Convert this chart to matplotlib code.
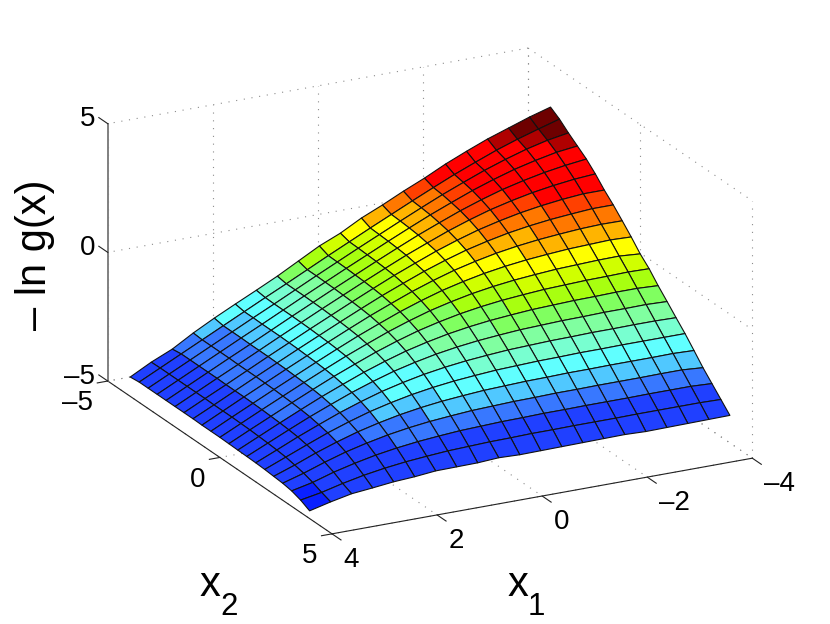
import numpy as np
import matplotlib
matplotlib.use('Agg')
from matplotlib import pyplot as plt
from matplotlib.colors import ListedColormap, BoundaryNorm
from mpl_toolkits.mplot3d import proj3d

plt.rcParams['font.family'] = ['Liberation Sans', 'DejaVu Sans']

# %% data
# edges measured from the grid corners, inner cells estimated from the
# grid lines and colour bands
x1 = [4.0, 3.6, 3.2, 2.8, 2.4, 2.0, 1.6, 1.2, 0.8, 0.4, 0.0,
      -0.4, -0.8, -1.2, -1.6, -2.0, -2.4, -2.8, -3.2, -3.6, -4.0]
x2 = [-4.0, -3.6, -3.2, -2.8, -2.4, -2.0, -1.6, -1.2, -0.8, -0.4, 0.0,
      0.4, 0.8, 1.2, 1.6, 2.0, 2.4, 2.8, 3.2, 3.6, 4.0]
z = [
    [-4.25, -4.21, -4.21, -4.21, -4.21, -4.21, -4.21, -4.21, -4.22, -4.22, -4.22, -4.23, -4.24, -4.25, -4.26, -4.28, -4.31, -4.34, -4.40, -4.52, -4.70],
    [-3.82, -3.81, -3.81, -3.81, -3.81, -3.81, -3.81, -3.82, -3.82, -3.82, -3.83, -3.84, -3.86, -3.88, -3.91, -3.95, -4.02, -4.10, -4.22, -4.37, -4.50],
    [-3.46, -3.41, -3.41, -3.41, -3.41, -3.41, -3.42, -3.42, -3.42, -3.43, -3.44, -3.46, -3.48, -3.51, -3.55, -3.62, -3.70, -3.82, -3.97, -4.17, -4.33],
    [-2.98, -3.01, -3.01, -3.01, -3.01, -3.02, -3.02, -3.02, -3.03, -3.04, -3.06, -3.08, -3.11, -3.15, -3.22, -3.30, -3.42, -3.57, -3.77, -4.00, -4.25],
    [-2.55, -2.61, -2.61, -2.61, -2.62, -2.62, -2.62, -2.63, -2.64, -2.66, -2.68, -2.71, -2.75, -2.82, -2.90, -3.02, -3.17, -3.37, -3.60, -3.87, -4.16],
    [-2.15, -2.21, -2.21, -2.22, -2.22, -2.22, -2.23, -2.24, -2.26, -2.28, -2.31, -2.35, -2.42, -2.50, -2.62, -2.77, -2.97, -3.20, -3.47, -3.77, -4.11],
    [-1.76, -1.81, -1.82, -1.82, -1.82, -1.83, -1.84, -1.86, -1.88, -1.91, -1.95, -2.02, -2.10, -2.22, -2.37, -2.57, -2.80, -3.07, -3.37, -3.70, -4.03],
    [-1.36, -1.42, -1.42, -1.42, -1.43, -1.44, -1.46, -1.48, -1.51, -1.55, -1.62, -1.70, -1.82, -1.97, -2.17, -2.40, -2.67, -2.97, -3.30, -3.64, -4.02],
    [-0.92, -1.02, -1.02, -1.03, -1.04, -1.06, -1.08, -1.11, -1.15, -1.22, -1.30, -1.42, -1.57, -1.77, -2.00, -2.27, -2.57, -2.90, -3.24, -3.61, -4.01],
    [-0.48, -0.62, -0.63, -0.64, -0.66, -0.68, -0.71, -0.75, -0.82, -0.90, -1.02, -1.17, -1.37, -1.60, -1.87, -2.17, -2.50, -2.84, -3.21, -3.58, -3.96],
    [-0.13, -0.23, -0.24, -0.26, -0.28, -0.31, -0.35, -0.42, -0.50, -0.62, -0.77, -0.97, -1.20, -1.47, -1.77, -2.10, -2.44, -2.81, -3.18, -3.57, -3.99],
    [0.31, 0.16, 0.14, 0.12, 0.09, 0.05, -0.02, -0.10, -0.22, -0.37, -0.57, -0.80, -1.07, -1.37, -1.70, -2.04, -2.41, -2.78, -3.17, -3.55, -3.98],
    [0.67, 0.54, 0.52, 0.49, 0.45, 0.38, 0.30, 0.18, 0.03, -0.17, -0.40, -0.67, -0.97, -1.30, -1.64, -2.01, -2.38, -2.77, -3.15, -3.55, -3.97],
    [1.06, 0.92, 0.89, 0.85, 0.78, 0.70, 0.58, 0.43, 0.23, 0.00, -0.27, -0.57, -0.90, -1.24, -1.61, -1.98, -2.37, -2.75, -3.15, -3.54, -3.96],
    [1.42, 1.29, 1.25, 1.18, 1.10, 0.98, 0.83, 0.63, 0.40, 0.13, -0.17, -0.50, -0.84, -1.21, -1.58, -1.97, -2.35, -2.75, -3.14, -3.54, -3.95],
    [1.82, 1.65, 1.58, 1.50, 1.38, 1.23, 1.03, 0.80, 0.53, 0.23, -0.10, -0.44, -0.81, -1.18, -1.57, -1.95, -2.35, -2.74, -3.14, -3.54, -3.94],
    [2.17, 1.98, 1.90, 1.78, 1.63, 1.43, 1.20, 0.93, 0.63, 0.30, -0.04, -0.41, -0.78, -1.17, -1.55, -1.95, -2.34, -2.74, -3.14, -3.53, -3.97],
    [2.50, 2.30, 2.18, 2.03, 1.83, 1.60, 1.33, 1.03, 0.70, 0.36, -0.01, -0.38, -0.77, -1.15, -1.55, -1.94, -2.34, -2.74, -3.13, -3.53, -3.96],
    [2.78, 2.58, 2.43, 2.23, 2.00, 1.73, 1.43, 1.10, 0.76, 0.39, 0.02, -0.37, -0.75, -1.15, -1.54, -1.94, -2.34, -2.73, -3.13, -3.53, -3.95],
    [3.06, 2.83, 2.63, 2.40, 2.13, 1.83, 1.50, 1.16, 0.79, 0.42, 0.03, -0.35, -0.75, -1.14, -1.54, -1.94, -2.33, -2.73, -3.13, -3.53, -3.94],
    [3.30, 3.07, 2.77, 2.50, 2.23, 1.89, 1.50, 1.16, 0.78, 0.39, -0.03, -0.37, -0.79, -1.17, -1.56, -1.94, -2.36, -2.79, -3.17, -3.55, -3.93],
]
x1_ticks = [-4, -2, 0, 2, 4]
x2_ticks = [-5, 0, 5]
z_ticks = [-5, 0, 5]

# %% colour bands
band_edges = [-4.2, -3.1, -2.6, -2.2, -1.7, -1.3, -0.95, -0.55, -0.15, 0.2,
              0.6, 1.0, 1.35, 1.7, 2.65, 2.95]
band_colors = ['#0a20ff', '#2040ff', '#3878ff', '#50c8ff', '#60ffff',
               '#78ffd0', '#80ffa0', '#80ff60', '#a8ff10', '#d0ff00',
               '#ffff00', '#ffb400', '#ff7800', '#ff4000', '#ff0000',
               '#b00000', '#6e0000']
cmap = ListedColormap(band_colors)
norm = BoundaryNorm([-10] + band_edges + [10], cmap.N)

# %% figure
fig = plt.figure(figsize=(8.3, 6.24), dpi=100)
ax = fig.add_axes([124/830, 27/624, 596/830, 596/624],
                  projection='3d', proj_type='ortho', computed_zorder=False)
ax.set_box_aspect((473, 491, 275), zoom=713 / 596)
ax.view_init(elev=20.5, azim=62.8)
ax.set_xlim(-4, 4, view_margin=0)
ax.set_ylim(-5, 5, view_margin=0)
ax.set_zlim(-5, 5, view_margin=0)
ax.set_xticks([])
ax.set_yticks([])
ax.set_zticks([])
ax.set_axis_off()

x1_lo, x1_hi = x1_ticks[0], x1_ticks[-1]
x2_lo, x2_hi = x2_ticks[0], x2_ticks[-1]
z_lo, z_hi = z_ticks[0], z_ticks[-1]
grid_kw = dict(color='#8c8c8c', lw=0.8, ls=(0, (1, 6)), zorder=1, clip_on=False)
axis_kw = dict(color='#222222', lw=0.8, zorder=3, clip_on=False)


def tick_label(px1, px2, pz, value, ha):
    # place the label where the 3d point lands, as a plain 2d text
    sx, sy, _ = proj3d.proj_transform(px1, px2, pz, ax.get_proj())
    ax.text2D(sx, sy, str(value).replace('-', '\u2013'), transform=ax.transData,
              fontsize=20, ha=ha, va='center')


# %% walls and floor
for v in z_ticks:
    ax.plot([x1_lo, x1_hi], [x2_lo, x2_lo], [v, v], **grid_kw)
    ax.plot([x1_lo, x1_lo], [x2_lo, x2_hi], [v, v], **grid_kw)
for v in x1_ticks:
    ax.plot([v, v], [x2_lo, x2_lo], [z_lo, z_hi], **grid_kw)
    ax.plot([v, v], [x2_lo, x2_hi], [z_lo, z_lo], **grid_kw)
for v in x2_ticks:
    ax.plot([x1_lo, x1_lo], [v, v], [z_lo, z_hi], **grid_kw)
    ax.plot([x1_lo, x1_hi], [v, v], [z_lo, z_lo], **grid_kw)

# %% surface
X1, X2 = np.meshgrid(x1, x2, indexing='ij')
Z = np.array(z)
cell_colors = cmap(norm(Z[1:, :-1]))
surf = ax.plot_surface(X1, X2, Z, rstride=1, cstride=1, facecolors=cell_colors,
                       edgecolor='#111111', linewidth=0.8, shade=False,
                       antialiased=True, zorder=2)
surf.set_clip_on(False)

# %% axis lines, ticks and tick labels
ax.plot([x1_lo, x1_hi], [x2_hi, x2_hi], [z_lo, z_lo], **axis_kw)
ax.plot([x1_hi, x1_hi], [x2_lo, x2_hi], [z_lo, z_lo], **axis_kw)
ax.plot([x1_hi, x1_hi], [x2_lo, x2_lo], [z_lo, z_hi], color='#808080', lw=1.4,
        zorder=3, clip_on=False)
for v in x1_ticks:
    ax.plot([v, v], [x2_hi, x2_hi + 0.4], [z_lo, z_lo], **axis_kw)
    tick_label(v + 0.4, x2_hi + 1.45, z_lo, v, 'left')
for v in x2_ticks:
    ax.plot([x1_hi, x1_hi + 0.2], [v, v], [z_lo, z_lo], **axis_kw)
    tick_label(x1_hi + 0.6, v + 0.75, z_lo - 0.2, v, 'right')
for v in z_ticks:
    ax.plot([x1_hi, x1_hi], [x2_lo, x2_lo - 0.4], [v, v], **axis_kw)
    tick_label(x1_hi, x2_lo - 0.55, v - 0.15, v, 'right')

# %% axis labels
fig.text(35/830, 1 - 255/624, '\u2013 ln g(x)', fontsize=30, rotation=90,
         ha='center', va='center')
fig.text(518/830, 1 - 596/624, 'x', fontsize=30, ha='center', va='baseline')
fig.text(536/830, 1 - 615/624, '1', fontsize=22.5, ha='center', va='baseline')
fig.text(210/830, 1 - 596/624, 'x', fontsize=30, ha='center', va='baseline')
fig.text(229/830, 1 - 615/624, '2', fontsize=22.5, ha='center', va='baseline')

fig.savefig('out.png', dpi=100)
